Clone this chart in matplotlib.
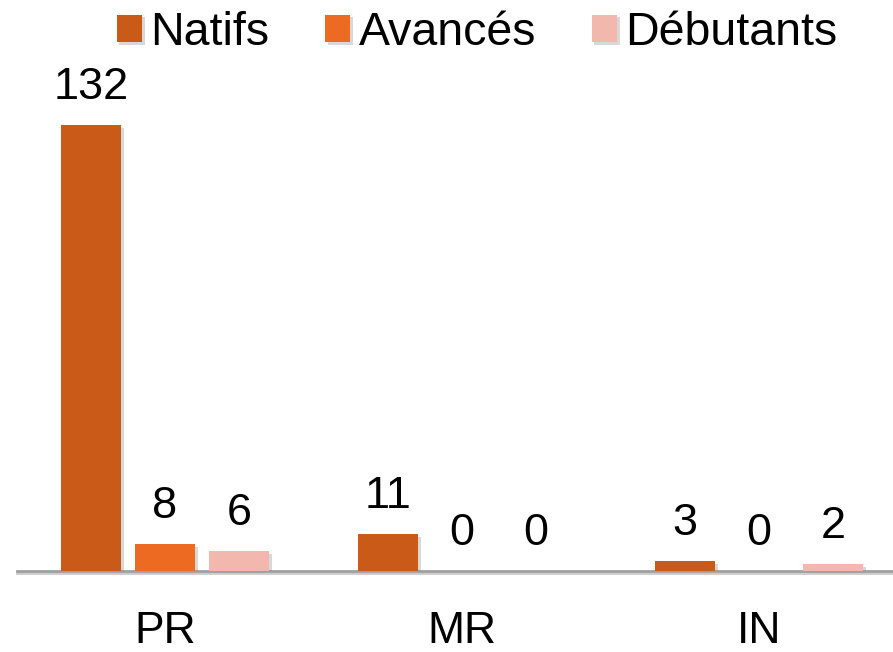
import matplotlib.pyplot as plt
import matplotlib.patheffects as pe
import numpy as np

plt.rcParams['font.family'] = ['Liberation Sans', 'DejaVu Sans']

categories = ['PR', 'MR', 'IN']
series = ['Natifs', 'Avancés', 'Débutants']
natifs = [132, 11, 3]
avances = [8, 0, 0]
debutants = [6, 0, 2]
colors = ['#C95A18', '#EC6A22', '#F2B8AE']

fig = plt.figure(figsize=(8.93, 6.52), dpi=100)
ax = fig.add_axes([17 / 893, 81 / 652, 1 - 17 / 893, 1 - 81 / 652])

x = np.arange(len(categories))
width = 0.202
step = 0.249
shadow = [pe.SimplePatchShadow(offset=(2, -2), shadow_rgbFace='gray', alpha=0.3), pe.Normal()]

for i, (name, vals) in enumerate(zip(series, [natifs, avances, debutants])):
    pos = x + (i - 1) * step
    bars = ax.bar(pos, vals, width, color=colors[i], label=name, zorder=3)
    for b in bars:
        b.set_path_effects(shadow)
    for p, v in zip(pos, vals):
        ax.annotate(str(v), xy=(p, v), xytext=(0, 27), textcoords='offset points',
                    ha='center', va='center', fontsize=32.5)

ax.set_xlim(-0.498, 2.451)
ax.set_ylim(0, 169)
for s in ['top', 'left', 'right']:
    ax.spines[s].set_visible(False)
ax.spines['bottom'].set_color('#A0A0A0')
ax.spines['bottom'].set_linewidth(2)
ax.spines['bottom'].set_path_effects([pe.SimpleLineShadow(offset=(0, -1.5), alpha=0.2), pe.Normal()])
ax.set_yticks([])
ax.set_xticks(x)
ax.set_xticklabels(categories, fontsize=32)
ax.tick_params(axis='x', length=0, pad=29)

fig.legend(loc='center', bbox_to_anchor=(477 / 893, 1 - 33 / 652), ncol=3, frameon=False,
           fontsize=33.5, handlelength=0.54, handleheight=0.54, handletextpad=0.18,
           columnspacing=1.2, borderaxespad=0, borderpad=0)

fig.savefig('out.png', dpi=100)
